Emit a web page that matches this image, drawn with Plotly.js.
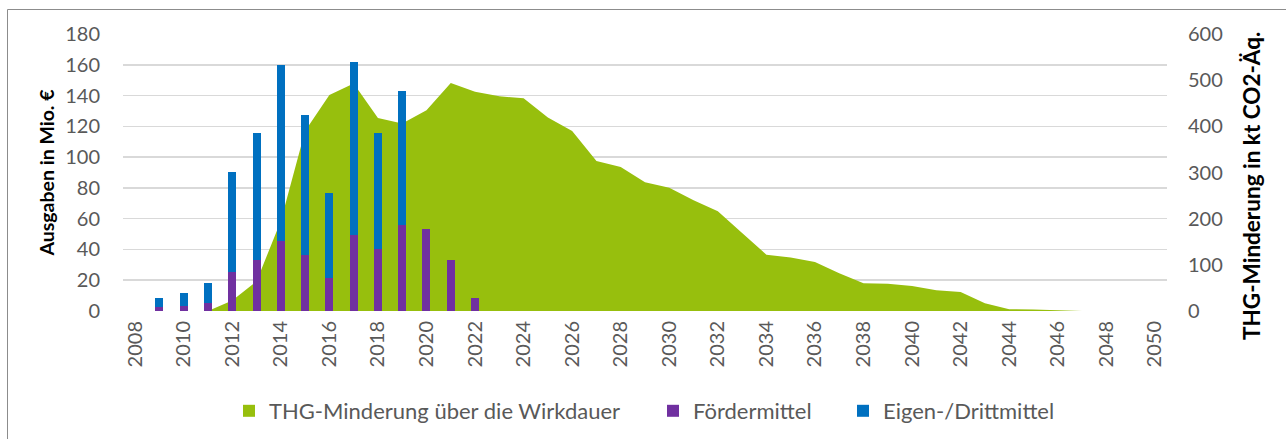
<!DOCTYPE html>
<html>
<head>
<meta charset="utf-8">
<script src="https://cdn.plot.ly/plotly-3.0.1.min.js"></script>
<style>
  html, body { margin: 0; padding: 0; background: #fff; overflow: hidden; }
  #chart { width: 1286px; height: 439px; }
</style>
</head>
<body>
<div id="chart"></div>
<script>
// Categories (years)
const years = [];
for (let y = 2008; y <= 2050; y++) years.push(String(y));
const tickYears = years.filter((y, i) => i % 2 === 0);

// THG-Minderung über die Wirkdauer (kt CO2-Äq., right axis)
const thgYears = ["2011","2012","2013","2014","2015","2016","2017","2018","2019","2020",
  "2021","2022","2023","2024","2025","2026","2027","2028","2029","2030",
  "2031","2032","2033","2034","2035","2036","2037","2038","2039","2040",
  "2041","2042","2043","2044","2045","2046","2047","2048","2049","2050"];
const thgValues = [0, 23, 64, 195, 390, 468, 493, 418, 406, 435,
  494, 475, 465, 461, 419, 390, 325, 312, 279, 267,
  240, 216, 169, 122, 116, 106, 82, 60, 59, 54,
  45, 41, 17, 4, 3, 1, 0, 0, 0, 0];

// Ausgaben in Mio. € (left axis)
const barYears = ["2009","2010","2011","2012","2013","2014","2015","2016","2017","2018","2019","2020","2021","2022"];
const foerdermittel = [2.4, 3.3, 5, 25.4, 33.3, 45.4, 36.3, 21.7, 49.1, 40.2, 55.7, 53, 33, 8.7];
const eigenDrittmittel = [6.3, 8.7, 13.3, 64.8, 82.6, 114.2, 91.1, 55, 112.9, 75.7, 87.3, 0, 0, 0];

const names = ["THG-Minderung über die Wirkdauer", "Fördermittel", "Eigen-/Drittmittel"];
const colors = { green: "#97BF0D", purple: "#7030A0", blue: "#0070C0" };

const FONT = "Lato, 'Open Sans', sans-serif";
const GREY = "#595959";

// plot area pixel geometry
const L = 123, R = 1167, T = 34, B = 311;
const W = 1286, H = 439;
const px2x = p => (p - L) / (R - L);
const px2y = p => (B - p) / (B - T);

const traces = [
  {
    type: "scatter", mode: "lines", x: thgYears, y: thgValues,
    fill: "tozeroy", fillcolor: colors.green, line: { width: 0, color: colors.green },
    yaxis: "y", showlegend: false, hoverinfo: "x+y"
  },
  {
    // legend entry (square swatch) for the area series
    type: "bar", x: [years[0]], y: [0], name: names[0], marker: { color: colors.green, line: { width: 0 } },
    yaxis: "y2", legend: "legend", showlegend: true
  },
  {
    type: "bar", x: barYears, y: foerdermittel, name: names[1],
    marker: { color: colors.purple }, yaxis: "y2", legend: "legend2", showlegend: true
  },
  {
    type: "bar", x: barYears, y: eigenDrittmittel, name: names[2],
    marker: { color: colors.blue }, yaxis: "y2", legend: "legend3", showlegend: true
  }
];

const legendBase = {
  orientation: "h", yanchor: "middle", xanchor: "left", y: px2y(411),
  font: { family: FONT, size: 22, color: GREY }, itemwidth: 30,
  bgcolor: "rgba(0,0,0,0)", borderwidth: 0
};

const layout = {
  width: W, height: H,
  margin: { l: L, r: W - R, t: T, b: H - B, pad: 0, autoexpand: false },
  paper_bgcolor: "#fff", plot_bgcolor: "rgba(0,0,0,0)",
  barmode: "stack", bargap: 0.67,
  font: { family: FONT, color: GREY },
  xaxis: {
    type: "category", categoryorder: "array", categoryarray: years,
    range: [-0.5, years.length - 0.5],
    tickmode: "array", tickvals: tickYears, ticktext: tickYears,
    tickangle: -90, tickfont: { family: FONT, size: 20, color: GREY },
    showgrid: false, zeroline: false, showline: false, ticks: "",
    ticklabelstandoff: 5, automargin: false
  },
  yaxis: {
    side: "right", range: [0, 600], dtick: 100, tick0: 0,
    showgrid: false, zeroline: false, showline: false, ticks: "",
    tickfont: { family: FONT, size: 20, color: GREY }, ticklabelstandoff: 20, automargin: false
  },
  yaxis2: {
    overlaying: "y", side: "left", range: [0, 180], dtick: 20, tick0: 0,
    showgrid: true, gridcolor: "#D9D9D9", gridwidth: 1.5,
    zeroline: false, showline: false, ticks: "",
    tickfont: { family: FONT, size: 20, color: GREY }, ticklabelstandoff: 22, automargin: false
  },
  legend: Object.assign({}, legendBase, { x: px2x(229) }),
  legend2: Object.assign({}, legendBase, { x: px2x(653) }),
  legend3: Object.assign({}, legendBase, { x: px2x(843) }),
  annotations: [
    {
      text: "Ausgaben in Mio. €", xref: "paper", yref: "paper",
      x: px2x(46), y: px2y(172.5), xanchor: "center", yanchor: "middle",
      textangle: -90, showarrow: false,
      font: { family: FONT, size: 19.5, color: "#000", weight: "bold" }
    },
    {
      text: "THG-Minderung in kt CO2-Äq.", xref: "paper", yref: "paper",
      x: px2x(1251), y: px2y(186), xanchor: "center", yanchor: "middle",
      textangle: -90, showarrow: false,
      font: { family: FONT, size: 22.5, color: "#000", weight: "bold" }
    }
  ],
  shapes: [
    {
      type: "rect", xref: "paper", yref: "paper", layer: "below",
      x0: px2x(7.5), x1: px2x(1400), y0: px2y(600), y1: px2y(9.5),
      line: { color: "#8C8C8C", width: 1 }, fillcolor: "rgba(0,0,0,0)"
    }
  ]
};

Plotly.newPlot("chart", traces, layout, { displayModeBar: false, staticPlot: true });
</script>
</body>
</html>
